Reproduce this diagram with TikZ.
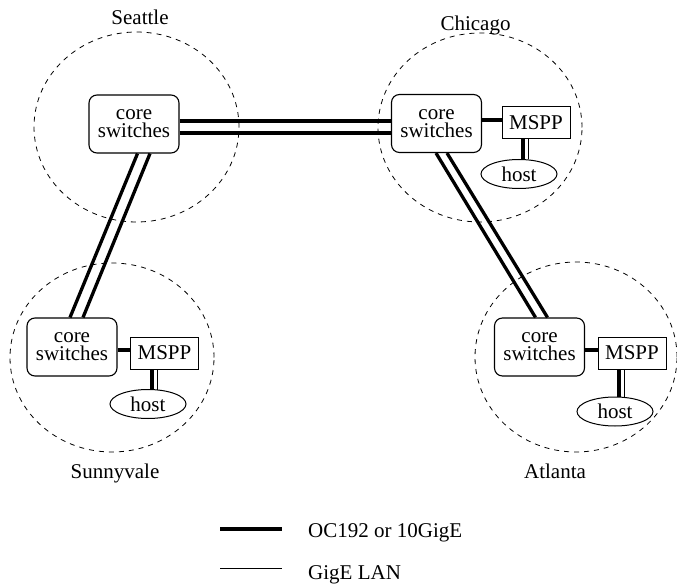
\documentclass[tikz,border=0pt]{standalone}
\usepackage{fontspec}
\setmainfont{Liberation Serif}
\usetikzlibrary{shapes.geometric}
\begin{document}
\begin{tikzpicture}[x=1pt,y=-1pt,
  txt/.style={font=\fontsize{21}{18}\selectfont},
  corebox/.style={txt,draw,rounded corners=8pt,minimum width=90pt,minimum height=58pt,inner sep=0pt,align=center,line width=1.1pt},
  msppbox/.style={txt,draw,minimum width=68pt,minimum height=32pt,inner sep=0pt,line width=1pt},
  hostnode/.style={txt,draw,ellipse,minimum width=76pt,minimum height=29pt,inner sep=0pt,line width=1pt},
  site/.style={draw,dash pattern=on 5pt off 5pt,ellipse,inner sep=0pt,line width=0.8pt},
  fatlink/.style={line width=3.3pt},
  thinlink/.style={line width=1pt},
  cityname/.style={txt,anchor=base,inner sep=0pt}]
\useasboundingbox (0,0) rectangle (677,585);

% sites
\node[site,minimum width=205pt,minimum height=190pt] (seaSite) at (136.5,127) {};
\node[site,minimum width=204pt,minimum height=189pt] (chiSite) at (480,127.5) {};
\node[site,minimum width=204pt,minimum height=189pt] (sunSite) at (112,357.5) {};
\node[site,minimum width=202pt,minimum height=190pt] (atlSite) at (576,357) {};

% city names
\node[cityname] (seaName) at (140,25) {Seattle};
\node[cityname] (chiName) at (475.5,31) {Chicago};
\node[cityname] (sunName) at (115,478) {Sunnyvale};
\node[cityname] (atlName) at (555,478) {Atlanta};

% core switches
\node[corebox] (sea) at (134,124) {core\\switches};
\node[corebox] (chi) at (436.5,123.5) {core\\switches};
\node[corebox] (sun) at (72,347) {core\\switches};
\node[corebox] (atl) at (539.5,347) {core\\switches};

% MSPP
\node[msppbox] (chiM) at (536,123) {MSPP};
\node[msppbox] (sunM) at (164.5,353) {MSPP};
\node[msppbox] (atlM) at (632,353) {MSPP};

% hosts
\node[hostnode] (chiH) at (519,174) {host};
\node[hostnode] (sunH) at (148,404) {host};
\node[hostnode] (atlH) at (615,411.5) {host};

% backbone links
\draw[fatlink] ([yshift=3pt]sea.east) -- ([yshift=3pt]sea.east -| chi.west);
\draw[fatlink] ([yshift=-9pt]sea.east) -- ([yshift=-9pt]sea.east -| chi.west);
\draw[fatlink] ([xshift=3.5pt]sea.south) -- ([xshift=-2pt]sun.north);
\draw[fatlink] ([xshift=16pt]sea.south) -- ([xshift=11pt]sun.north);
\draw[fatlink] ([xshift=-0.5pt]chi.south) -- ([xshift=-4pt]atl.north);
\draw[fatlink] ([xshift=10.5pt]chi.south) -- ([xshift=8pt]atl.north);

% core to MSPP
\draw[fatlink] ([yshift=3.5pt]chi.east) -- ([yshift=3.5pt]chi.east -| chiM.west);
\draw[fatlink] ([yshift=-3pt]sun.east) -- ([yshift=-3pt]sun.east -| sunM.west);
\draw[fatlink] ([yshift=-3pt]atl.east) -- ([yshift=-3pt]atl.east -| atlM.west);

% MSPP to host
\foreach \h/\m in {chiH/chiM,sunH/sunM,atlH/atlM}{
  \draw[fatlink] ([xshift=4pt]\h.north |- \m.south) -- ([xshift=4pt]\h.north);
  \draw[thinlink] ([xshift=9pt]\h.north |- \m.south) -- ([xshift=9pt,yshift=-0.5pt]\h.north);
}

% legend
\coordinate (lgA1) at (220,529);
\coordinate (lgA2) at (282,529);
\coordinate (lgB1) at (220,568);
\coordinate (lgB2) at (282,568);
\draw[fatlink] (lgA1) -- (lgA2);
\draw[thinlink] (lgB1) -- (lgB2);
\node[txt,anchor=base west,inner sep=0pt] (lgAtext) at (308,537) {OC192 or 10GigE};
\node[txt,anchor=base west,inner sep=0pt] (lgBtext) at (308,579) {GigE LAN};
\end{tikzpicture}
\end{document}
